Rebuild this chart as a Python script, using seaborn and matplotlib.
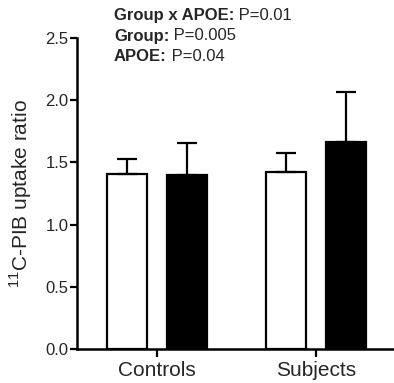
import pandas as pd
import seaborn as sns
import matplotlib.pyplot as plt

# Data
groups = ["Controls", "Controls", "Subjects", "Subjects"]
apoe = ["neg", "pos", "neg", "pos"]
means = [1.41, 1.40, 1.425, 1.665]
sems = [0.115, 0.255, 0.148, 0.40]
stats_lines = [("Group x APOE:", " P=0.01"), ("Group:", " P=0.005"), ("APOE:", " P=0.04")]

df = pd.DataFrame({"Group": groups, "APOE": apoe, "Ratio": means})

sns.set_style("ticks")
plt.rcParams["font.family"] = ["Liberation Sans", "DejaVu Sans"]
plt.rcParams["mathtext.fontset"] = "custom"
plt.rcParams["mathtext.rm"] = "Liberation Sans"

fig = plt.figure(figsize=(3.94, 3.83), dpi=100)
ax = fig.add_axes([0.195, 0.0888, 0.805, 0.812])

sns.barplot(data=df, x="Group", y="Ratio", hue="APOE", hue_order=["neg", "pos"],
            palette=["white", "black"], width=0.755, gap=0.34,
            edgecolor="black", linewidth=1.6, errorbar=None, legend=False, ax=ax)

# upward-only error bars on each bar
bars = sorted(ax.patches, key=lambda p: p.get_x())
for p, m, e in zip(bars, means, sems):
    xc = p.get_x() + p.get_width() / 2
    ax.errorbar(xc, m, yerr=[[0], [e]], color="black", elinewidth=1.6,
                capsize=7.5, capthick=1.6, zorder=1)

ax.set_ylim(0, 2.5)
ax.set_xlim(-0.503, 1.49)
ax.set_yticks([0, 0.5, 1.0, 1.5, 2.0, 2.5])
ax.set_yticklabels(["0.0", "0.5", "1.0", "1.5", "2.0", "2.5"])
ax.set_xlabel("")
ax.set_ylabel(r"$^{\mathrm{11}}$C-PIB uptake ratio", fontsize=15, labelpad=8)
ax.tick_params(axis="y", labelsize=12, width=1.6, length=5, pad=1, color="black")
ax.tick_params(axis="x", labelsize=15, width=1.6, length=6, pad=3, color="black")
sns.despine(ax=ax)
for s in ["left", "bottom"]:
    ax.spines[s].set_linewidth(1.8)
    ax.spines[s].set_color("black")

# statistics text
for i, (b, r) in enumerate(stats_lines):
    y = 1 - (20 + 20.5 * i) / 383
    t = fig.text(114 / 394, y, b, fontsize=12, fontweight="bold", va="baseline")
    fig.canvas.draw()
    bb = t.get_window_extent()
    fig.text(bb.x1 / fig.bbox.width, y, r, fontsize=12, va="baseline")

fig.savefig("out.png", dpi=100)
